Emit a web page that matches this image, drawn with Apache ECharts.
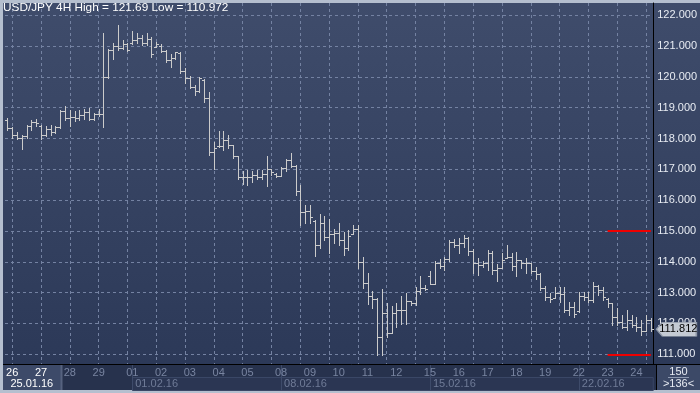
<!DOCTYPE html>
<html><head><meta charset="utf-8">
<script src="https://cdn.jsdelivr.net/npm/echarts@6/dist/echarts.min.js"></script>
<style>html,body{margin:0;padding:0;background:#b5bfcf;}#c{width:700px;height:393px;}</style>
</head><body><div id="c"></div>
<script>
// ---- data (USD/JPY 4H bars) ----
const opens = [
118.59,118.33,118.10,118.03,118.08,118.40,118.52,118.42,118.10,118.30,
118.20,118.38,118.90,118.65,118.70,118.68,118.75,118.85,118.62,118.80,
118.80,120.00,120.88,121.00,120.95,121.05,121.10,121.18,121.25,121.10,
121.22,120.98,121.00,120.85,120.55,120.62,120.78,120.20,119.95,119.68,
119.55,119.90,119.30,117.55,117.75,117.75,117.95,117.78,117.42,116.75,
116.75,116.75,116.82,116.75,116.85,117.00,116.85,116.80,117.05,117.30,
117.12,116.30,115.60,115.65,115.34,114.55,115.25,114.80,114.90,114.95,
114.70,114.45,114.90,115.05,114.00,113.30,112.90,112.80,111.55,112.35,
111.70,112.35,112.45,112.45,112.72,112.65,113.05,113.15,113.55,113.28,
113.95,113.85,114.10,114.65,114.55,114.60,114.78,114.35,113.95,113.90,
113.95,114.30,113.75,113.80,114.12,114.15,113.85,114.05,113.95,113.95,
113.70,113.60,113.15,112.85,112.82,113.00,112.95,112.45,112.55,112.40,
112.90,112.85,112.75,113.20,113.10,112.80,112.65,112.20,112.05,111.90,
112.10,111.95,111.90,111.75,112.10];
const highs = [
118.65,118.38,118.20,118.13,118.45,118.61,118.63,118.45,118.40,118.45,
118.42,118.94,119.06,118.94,118.88,118.94,118.96,118.99,118.83,118.96,
121.41,120.89,121.09,121.69,121.20,121.10,121.49,121.41,121.37,121.41,
121.30,121.14,121.06,120.87,120.74,120.82,120.82,120.28,120.03,119.74,
120.01,119.92,119.52,117.90,118.23,118.23,118.12,117.80,117.42,116.93,
116.97,116.93,116.99,116.97,117.43,117.00,116.87,117.09,117.32,117.52,
117.14,116.49,115.84,115.84,115.36,115.55,115.49,115.38,115.05,115.25,
114.98,115.03,115.19,115.19,114.17,113.63,113.06,112.82,113.11,112.68,
112.57,112.65,112.88,112.99,112.74,113.17,113.53,113.24,113.69,114.02,
114.10,114.17,114.71,114.74,114.76,114.87,114.82,114.42,114.12,114.03,
114.39,114.35,113.92,114.28,114.53,114.28,114.33,114.06,114.12,113.97,
113.84,113.63,113.22,112.98,113.19,113.19,113.19,112.71,112.71,113.03,
113.03,113.03,113.36,113.25,113.19,112.82,112.65,112.49,112.28,112.44,
112.28,112.22,112.11,112.28,112.17];
const lows = [
118.29,118.02,117.97,117.65,118.02,118.29,118.40,117.99,118.08,118.13,
118.18,118.35,118.61,118.40,118.56,118.61,118.63,118.61,118.60,118.72,
118.38,119.95,120.57,120.87,120.89,120.85,121.05,121.09,121.03,121.03,
120.66,120.96,120.80,120.49,120.33,120.57,120.14,119.81,119.63,119.41,
119.52,119.20,117.47,117.00,117.72,117.63,117.69,117.36,116.69,116.53,
116.48,116.58,116.69,116.69,116.45,116.82,116.76,116.78,116.96,117.09,
116.17,115.19,115.27,115.25,114.19,114.44,114.71,114.28,114.62,114.55,
114.22,114.38,114.89,113.79,113.14,112.63,112.49,110.98,110.972,111.57,
111.68,111.90,111.97,111.99,112.61,112.61,112.94,113.10,113.28,113.28,
113.80,113.74,114.03,114.49,114.28,114.49,114.23,113.63,113.58,113.82,
113.74,113.60,113.37,113.80,114.12,113.74,113.53,113.80,113.63,113.63,
113.43,113.09,112.76,112.71,112.82,112.71,112.38,112.28,112.22,112.38,
112.76,112.71,112.71,112.92,112.76,112.55,111.95,111.95,111.84,111.79,
111.90,111.74,111.63,111.74,111.74];
const closes = [
118.33,118.10,118.03,118.08,118.40,118.52,118.50,118.10,118.30,118.20,
118.38,118.90,118.65,118.70,118.68,118.75,118.85,118.62,118.80,118.80,
120.00,120.88,121.00,120.95,121.05,120.88,121.18,121.25,121.10,121.22,
120.75,121.05,120.85,120.55,120.62,120.80,120.20,119.95,119.68,119.55,
119.95,119.30,117.55,117.70,117.75,117.95,117.80,117.42,116.75,116.75,
116.75,116.82,116.75,116.85,117.00,116.90,116.80,117.05,117.30,117.12,
116.30,115.60,115.65,115.45,114.55,115.25,114.80,114.90,114.95,114.70,
114.45,114.85,115.05,114.00,113.30,112.90,112.80,111.55,112.35,111.70,
112.35,112.45,112.45,112.72,112.65,113.05,113.15,113.12,113.28,113.95,
113.85,114.10,114.65,114.55,114.60,114.78,114.35,113.95,113.90,113.95,
114.30,113.75,113.80,114.05,114.15,113.85,114.05,113.95,113.95,113.70,
113.60,113.15,112.85,112.80,113.00,112.95,112.45,112.55,112.30,112.90,
112.85,112.75,113.20,113.10,112.85,112.65,112.20,112.05,111.90,112.10,
111.95,111.90,111.75,112.10,111.812];
const dayLabels = ['26','27','28','29','01','02','03','04','05','08','09','10','11','12','15','16','17','18','19','22','23','24'];
const dayStart  = [1,7,13,19,26,32,38,44,50,57,63,69,75,81,88,94,100,106,112,119,125,131];
const weekLabels = ['25.01.16','01.02.16','08.02.16','15.02.16','22.02.16'];
const weekStart  = [0,26,57,88,119];
const levelPrices = [115, 111];
const levelFromBar = 125;
const lastPrice = 111.812;
const titleText = 'USD/JPY 4H High = 121.69 Low = 110.972';
const barsInfo = ['150', '>136<'];

// ---- build ----
const FONT = '"Liberation Sans Narrow","Liberation Sans",Arial,sans-serif';
const categories = opens.map((_, i) => 'b' + i);
const ohlc = opens.map((o, i) => [i, o, highs[i], lows[i], closes[i]]);
const dayMap = {}; dayStart.forEach((s, k) => dayMap[s] = dayLabels[k]);
const weekMap = {}; weekStart.forEach((s, k) => weekMap[s] = weekLabels[k]);
const weekBoxes = weekStart.slice(1).map((s, k) => [s, k + 2 < weekStart.length ? weekStart[k + 2] : -1]);
const idxOf = v => +String(v).slice(1);
const lastIdx = opens.length - 1;
const GRID = '#7482a2', BAR = '#cbcbcb';

const chart = echarts.init(document.getElementById('c'), null, {renderer: 'canvas'});
chart.setOption({
  backgroundColor: '#b5bfcf',
  animation: false,
  title: {text: titleText, left: 3, top: 2, padding: 0,
    textStyle: {color: '#ffffff', fontSize: 11.8, fontWeight: 'normal', fontFamily: FONT}},
  grid: {left: 5, right: 44, top: 3, bottom: 29, containLabel: false},
  xAxis: [{
    type: 'category', data: categories, boundaryGap: true, position: 'bottom',
    axisLine: {show: false}, axisTick: {show: false},
    splitLine: {show: true, alignWithLabel: true, interval: i => i % 6 === 1,
      lineStyle: {color: GRID, type: [3, 3], width: 1}},
    axisLabel: {interval: i => dayMap[i] !== undefined, margin: 3,
      formatter: v => dayMap[idxOf(v)] || '',
      color: v => idxOf(v) < 12 ? '#ffffff' : '#7884a0',
      fontSize: 11, fontFamily: FONT}
  }, {
    type: 'category', data: categories, boundaryGap: true, position: 'bottom',
    axisLine: {show: false},
    axisTick: {show: true, alignWithLabel: true, length: 26,
      interval: i => i > 0 && weekMap[i] !== undefined, lineStyle: {color: '#3e4b6a', width: 1}},
    splitLine: {show: false},
    axisLabel: {interval: i => weekMap[i] !== undefined, margin: 14, align: 'left', padding: [0, 0, 0, 3],
      formatter: v => weekMap[idxOf(v)] || '',
      color: v => idxOf(v) === 0 ? '#ffffff' : '#6f7b97',
      fontSize: 11, fontFamily: FONT}
  }],
  yAxis: {
    type: 'value', position: 'right', min: 110.685, max: 122.396, splitNumber: 12,
    axisLine: {show: true, lineStyle: {color: '#000000', width: 1}},
    axisTick: {show: false},
    splitLine: {show: true, showMinLine: false, showMaxLine: false,
      lineStyle: {color: GRID, type: [3, 3], width: 1}},
    axisLabel: {margin: 4, color: '#e8ecf3', fontSize: 11, fontFamily: FONT,
      showMinLabel: false, showMaxLabel: false, formatter: v => v.toFixed(3)}
  },
  graphic: [
    {type: 'rect', z: -10, silent: true, shape: {x: 3, y: 3, width: 697, height: 361},
      style: {fill: new echarts.graphic.LinearGradient(0, 0, 0, 1, [{offset: 0, color: '#3f4c6b'}, {offset: 1, color: '#2c3958'}])}},
    {type: 'rect', z: -10, silent: true, shape: {x: 3, y: 364, width: 654, height: 26}, style: {fill: '#27324d'}},
    {type: 'rect', z: -10, silent: true, shape: {x: 657, y: 364, width: 43, height: 26}, style: {fill: '#3c4967'}},
    {type: 'rect', z: -9, silent: true, shape: {x: 3, y: 365, width: 58, height: 25}, style: {fill: '#3d4a69'}},
    {type: 'line', z: -8, silent: true, shape: {x1: 61.5, y1: 364, x2: 61.5, y2: 390}, style: {stroke: '#56627f', lineWidth: 2}},
    {type: 'line', z: 20, silent: true, shape: {x1: 3, y1: 364.5, x2: 700, y2: 364.5}, style: {stroke: '#000000', lineWidth: 1}},
    {type: 'line', z: 20, silent: true, shape: {x1: 656.5, y1: 364, x2: 656.5, y2: 390}, style: {stroke: '#000000', lineWidth: 1}},
    {type: 'text', z: 20, silent: true, style: {x: 678.5, y: 371.5, text: barsInfo[0], fill: '#e8ecf3', font: '11px ' + FONT, align: 'center', verticalAlign: 'middle'}},
    {type: 'line', z: 20, silent: true, shape: {x1: 668, y1: 377.5, x2: 689, y2: 377.5}, style: {stroke: '#8e9ab2', lineWidth: 1}},
    {type: 'text', z: 20, silent: true, style: {x: 678.5, y: 383.5, text: barsInfo[1], fill: '#e8ecf3', font: '11px ' + FONT, align: 'center', verticalAlign: 'middle'}}
  ],
  series: [{
    type: 'custom', name: 'weeks', xAxisIndex: 0, yAxisIndex: 0, z: -1, clip: false, silent: true,
    data: weekBoxes,
    renderItem: (params, api) => {
      const cs = params.coordSys;
      const x1 = Math.round(api.coord([api.value(0), 0])[0]) + 0.5;
      const e = api.value(1);
      const x2 = e < 0 ? cs.x + cs.width : Math.round(api.coord([e, 0])[0]) + 0.5;
      const yb = cs.y + cs.height;
      return {type: 'rect', shape: {x: x1, y: yb + 13.5, width: x2 - x1, height: 13},
        style: {fill: '#2b3653', stroke: '#3a4766', lineWidth: 1}};
    }
  }, {
    type: 'custom', name: 'USD/JPY', xAxisIndex: 0, yAxisIndex: 0, z: 3,
    encode: {x: 0, y: [1, 2, 3, 4]},
    data: ohlc,
    renderItem: (params, api) => {
      const i = api.value(0);
      const x = Math.round(api.coord([i, api.value(2)])[0]) + 0.5;
      const yh = Math.round(api.coord([i, api.value(2)])[1]);
      const yl = Math.round(api.coord([i, api.value(3)])[1]) + 1;
      const yo = Math.round(api.coord([i, api.value(1)])[1]) + 0.5;
      const yc = Math.round(api.coord([i, api.value(4)])[1]) + 0.5;
      const st = {stroke: BAR, lineWidth: 1};
      return {type: 'group', children: [
        {type: 'line', shape: {x1: x, y1: yh, x2: x, y2: yl}, style: st},
        {type: 'line', shape: {x1: x - 2.5, y1: yo, x2: x, y2: yo}, style: st},
        {type: 'line', shape: {x1: x, y1: yc, x2: x + 2.5, y2: yc}, style: st}
      ]};
    },
    markLine: {
      silent: true, symbol: ['none', 'none'], label: {show: false},
      lineStyle: {color: '#ee0000', width: 2, type: 'solid'},
      data: levelPrices.map(p => [{coord: [levelFromBar, p]}, {coord: [lastIdx, p]}])
    },
    markPoint: {
      silent: true,
      symbol: 'path://M0,7 L6,0 L40,0 L40,14 L6,14 Z',
      symbolSize: [40, 14], symbolKeepAspect: false,
      itemStyle: {color: '#c4cad3', borderColor: '#8e97a6', borderWidth: 1},
      label: {show: true, position: 'inside', offset: [2, 0], color: '#000000', fontSize: 11, fontFamily: FONT,
        formatter: () => lastPrice.toFixed(3)},
      data: [{coord: [lastIdx, lastPrice], symbolOffset: [25.5, 0]}]
    }
  }]
});
</script></body></html>
